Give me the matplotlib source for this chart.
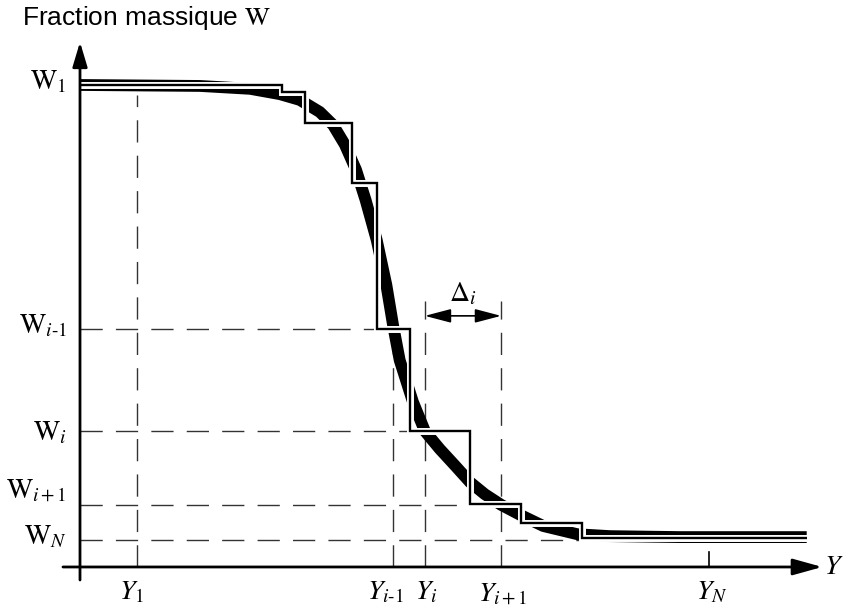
import matplotlib
matplotlib.use("Agg")
import matplotlib.pyplot as plt
import matplotlib.patheffects as pe

plt.rcParams['mathtext.fontset'] = 'stix'

# ---- data (Y in abscissa units, W mass fraction) ----
curve_Y = [0.00, 1.62, 2.30, 2.70, 2.97, 3.24, 3.42, 3.58, 3.73, 3.86, 4.01, 4.14,
           4.23, 4.32, 4.50, 4.66, 4.86, 5.07, 5.27, 5.47, 5.69, 5.95, 6.26, 6.72,
           7.16, 8.11, 9.82]
curve_W = [1.000, 0.998, 0.992, 0.981, 0.969, 0.944, 0.917, 0.876, 0.824, 0.761,
           0.678, 0.585, 0.502, 0.429, 0.342, 0.282, 0.245, 0.210, 0.176, 0.151,
           0.129, 0.108, 0.085, 0.068, 0.064, 0.062, 0.062]

step_edges = [0.00, 2.73, 3.04, 3.68, 4.01, 4.46, 5.27, 5.96, 6.78, 9.82]
step_levels = [1.000, 0.985, 0.921, 0.797, 0.494, 0.282, 0.131, 0.091, 0.060]

Y_ticks = [0.77, 4.23, 4.66, 5.69, 8.50]
Y_tick_labels = [r'$Y_{1}$', r'$Y_{i\text{-}1}$', r'$Y_{i}$', r'$Y_{i+1}$', r'$Y_{N}$']
Y_dash_top = [1.000, 0.494, 0.551, 0.551]   # top ends of dashed verticals

W_marks = [1.000, 0.494, 0.282, 0.129, 0.056]
W_mark_labels = [r'$\mathrm{W}_{1}$', r'$\mathrm{W}_{i\text{-}1}$', r'$\mathrm{W}_{i}$',
                 r'$\mathrm{W}_{i+1}$', r'$\mathrm{W}_{N}$']
W_dash_right = [None, 4.01, 4.46, 5.27, 6.78]

delta_W = 0.521

# ---- figure ----
fig = plt.figure(figsize=(8.46, 6.12), dpi=100)
ax = fig.add_axes([0, 0, 1, 1])
ax.set_xlim(-1.081, 10.351)
ax.set_ylim(-0.0934, 1.1763)
ax.axis('off')

dash = (0, (16, 9.5))
dcol = '#333333'

# horizontal dashed lines
for w, xr in zip(W_marks[1:], W_dash_right[1:]):
    ax.plot([0, xr], [w, w], ls=dash, lw=1.0, color=dcol, zorder=1)
# vertical dashed lines
for x, top in zip(Y_ticks[:4], Y_dash_top):
    ax.plot([x, x], [0, top - 0.02 if top > 0.9 else top], ls=dash, lw=1.0, color=dcol, zorder=1)
# Y_N solid tick
ax.plot([Y_ticks[4], Y_ticks[4]], [0, 0.031], lw=1.2, color='black', zorder=1)

# thick curve
ax.plot(curve_Y, curve_W, lw=8.5, color='black', solid_capstyle='butt',
        solid_joinstyle='round', zorder=2)

# staircase with white halo
ax.stairs(step_levels, step_edges, baseline=None, color='black', lw=1.7, zorder=3,
          path_effects=[pe.Stroke(linewidth=5.0, foreground='white'), pe.Normal()])

# axes with arrows
ax.annotate('', xy=(0, 1.089), xytext=(0, -0.027),
            arrowprops=dict(arrowstyle='-|>,head_length=1.5,head_width=0.45',
                            lw=2.0, color='black', shrinkA=0, shrinkB=0), zorder=4)
ax.annotate('', xy=(10.03, 0), xytext=(-0.23, 0),
            arrowprops=dict(arrowstyle='-|>,head_length=1.8,head_width=0.5',
                            lw=2.0, color='black', shrinkA=0, shrinkB=0), zorder=4)

# delta arrow
ax.annotate('', xy=(Y_ticks[3], delta_W), xytext=(Y_ticks[2], delta_W),
            arrowprops=dict(arrowstyle='<|-|>,head_length=1.6,head_width=0.42',
                            lw=1.2, color='black', shrinkA=0, shrinkB=0), zorder=4)
ax.text((Y_ticks[2] + Y_ticks[3]) / 2, delta_W + 0.018, r'$\Delta_{i}$',
        fontsize=20, ha='center', va='bottom')

# W labels
w_label_base = [0.990, 0.485, 0.263, 0.145, 0.046]
for lab, yb in zip(W_mark_labels, w_label_base):
    ax.text(-0.18, yb, lab, fontsize=20, ha='right', va='baseline')

# Y labels
y_label_dx = [-0.08, -0.10, 0.02, 0.02, 0.04]
for x, lab, dx in zip(Y_ticks, Y_tick_labels, y_label_dx):
    ax.text(x + dx, -0.068, lab, fontsize=20, ha='center', va='baseline')

ax.text(10.06, 0.003, r'$Y$', fontsize=20, ha='left', va='center')

# title
ax.text(-0.78, 1.138, r'Fraction massique $\mathrm{W}$', fontsize=19,
        family='Liberation Sans', ha='left', va='center')

fig.savefig('out.png', dpi=100)
